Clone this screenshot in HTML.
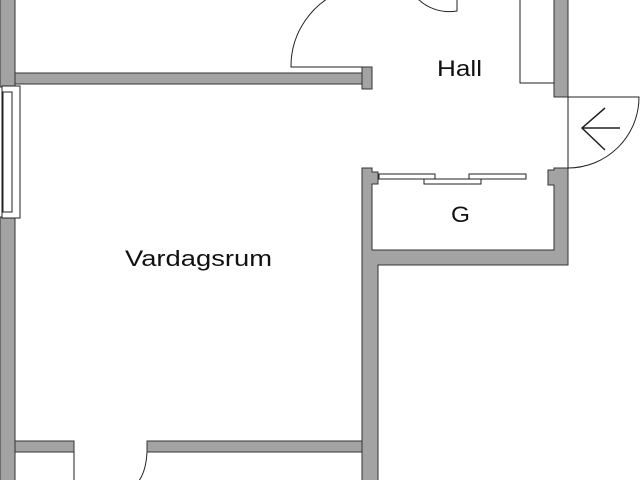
<!DOCTYPE html>
<html><head><style>body{margin:0;background:#fff}svg{display:block}</style></head><body>
<svg width="640" height="480" viewBox="0 0 640 480" xmlns="http://www.w3.org/2000/svg">
<g fill="#a3a3a3" stroke="#333" stroke-width="1">
<rect x="0" y="-2" width="15" height="89"/>
<rect x="0" y="217" width="15" height="265"/>
<rect x="15" y="73" width="347" height="11"/>
<path d="M362 67 H372 V89 H362 Z"/>
<rect x="554" y="-2" width="14" height="99"/>
<path d="M568 168 V265 H378 V482 H362 V168 H372 V172 H378 V184 H372 V250 H554 V185 H548 V170 H554 V168 Z"/>
<rect x="15" y="441" width="59" height="11"/>
<rect x="147" y="441" width="215" height="11"/>
</g>
<g fill="#fff" stroke="#222" stroke-width="1">
<rect x="2" y="86" width="18" height="132"/>
<rect x="3" y="92" width="9" height="120"/>
<rect x="379" y="174" width="56" height="5"/>
<rect x="424" y="179" width="57" height="5"/>
<rect x="469" y="174" width="57" height="5"/>
</g>
<g fill="none" stroke="#222" stroke-width="1">
<path d="M362 67 H291 A81 81 0 0 1 345 -10"/>
<path d="M417 -2 A45 45 0 0 0 457 11 V-2"/>
<path d="M554 83 H520 V-2"/>
<path d="M568 97 V168 A71 71 0 0 0 639 97 H568"/>
<path d="M620 128 H582 M605 108 L582 128 L605 150" stroke-width="1.5"/>
<path d="M74 452 V482"/>
<path d="M147 452 Q146 472 138 482"/>
</g>
<g font-family="Liberation Sans, sans-serif" font-size="22" fill="#111">
<text x="437" y="76" textLength="45" lengthAdjust="spacingAndGlyphs">Hall</text>
<text x="451" y="222" textLength="19" lengthAdjust="spacingAndGlyphs">G</text>
<text x="125" y="266" textLength="147" lengthAdjust="spacingAndGlyphs">Vardagsrum</text>
</g>
</svg>
</body></html>
